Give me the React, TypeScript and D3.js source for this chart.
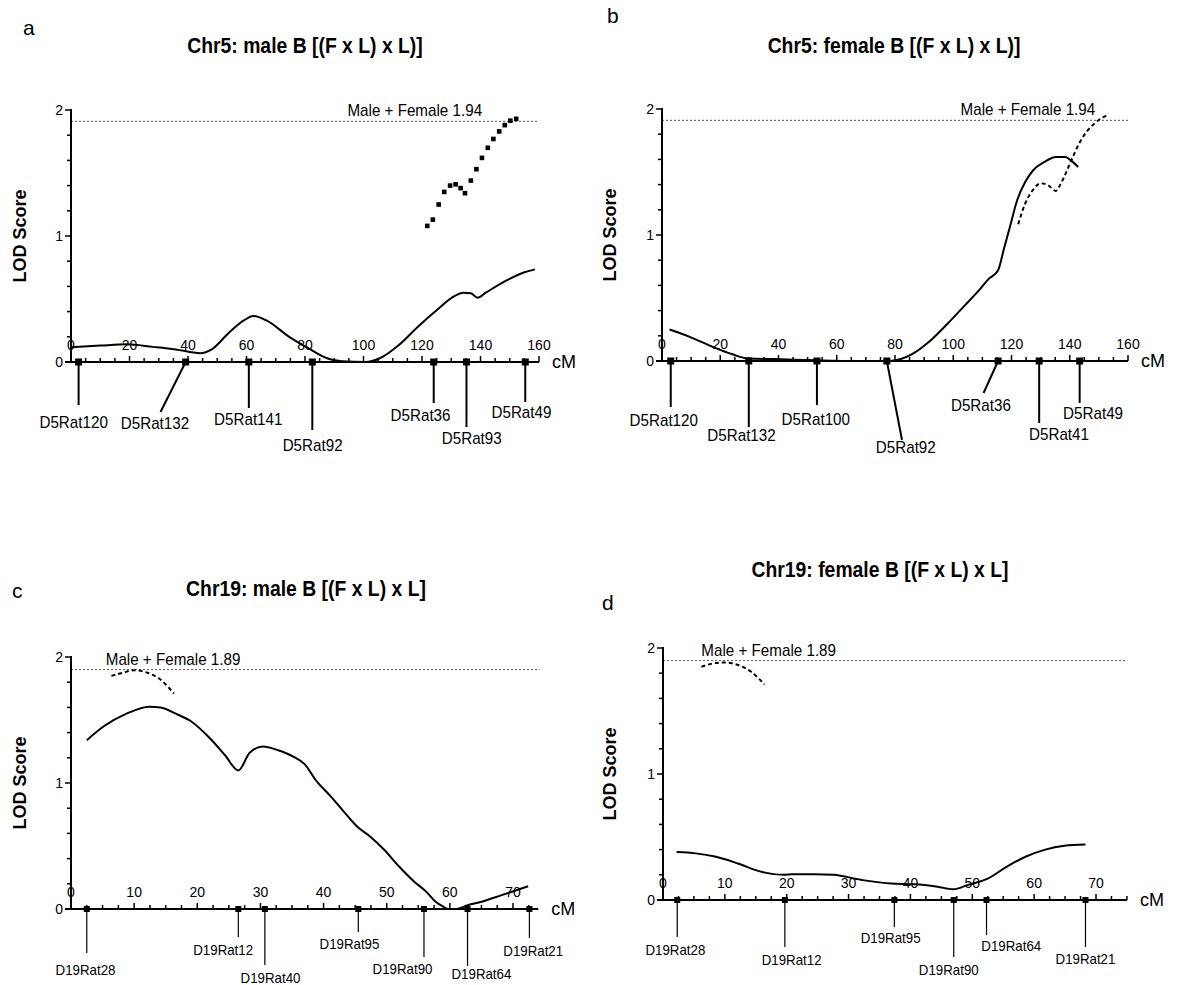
import React from "react";
import * as d3 from "d3";

const FONT = "'Liberation Sans', Arial, Helvetica, sans-serif";

// ---------------- data ----------------
// Panel a: Chr5 male
const A_CM = [0, 10, 19, 28, 35.8, 44.2, 48.1, 53.9, 59.1, 62.3, 66.8, 74.6, 81.1, 87.5, 92.7, 100.5, 105.6, 112.1, 118.6, 125, 130.9, 134.1, 136.7, 139, 141.8, 148.3, 154.8, 158.6];
const A_LOD = [0.117, 0.13, 0.14, 0.12, 0.1, 0.07, 0.1, 0.23, 0.33, 0.365, 0.33, 0.2, 0.11, 0.03, 0.005, 0, 0.03, 0.135, 0.28, 0.41, 0.52, 0.55, 0.545, 0.51, 0.55, 0.64, 0.71, 0.735];
const A_DOT_CM = [121.8, 123.7, 125.7, 127.6, 129.6, 131.5, 133.2, 134.7, 136.7, 138.6, 140.5, 142.5, 144.4, 146.4, 148.3, 150.2, 152.2];
const A_DOT_LOD = [1.08, 1.13, 1.25, 1.35, 1.4, 1.41, 1.38, 1.34, 1.44, 1.53, 1.62, 1.7, 1.77, 1.83, 1.88, 1.915, 1.93];
const A_MARKERS = ["D5Rat120", "D5Rat132", "D5Rat141", "D5Rat92", "D5Rat36", "D5Rat93", "D5Rat49"];
const A_MARKER_CM = [2.6, 39.2, 60.8, 82.5, 124, 135.2, 155.3];

// Panel b: Chr5 female
const B_CM = [2.6, 9.7, 17.6, 24.2, 29.5, 38.7, 52.9, 64, 77, 81, 86.3, 91.6, 98.2, 103.5, 108.8, 112.1, 115.4, 117.4, 119.4, 122, 124.7, 127.3, 131.3, 135.2, 138.5, 140.5, 142.9];
const B_LOD = [0.25, 0.19, 0.11, 0.053, 0.02, 0.015, 0.005, 0, 0, 0.01, 0.06, 0.15, 0.3, 0.43, 0.56, 0.65, 0.72, 0.89, 1.06, 1.28, 1.42, 1.51, 1.58, 1.62, 1.62, 1.59, 1.54];
const B_DASH_CM = [122.3, 124.7, 127.3, 130, 132.6, 135.2, 137.2, 140.5, 143.2, 145.8, 148.5, 151.1, 153.1];
const B_DASH_LOD = [1.085, 1.25, 1.355, 1.41, 1.395, 1.35, 1.42, 1.59, 1.725, 1.82, 1.885, 1.93, 1.95];
const B_MARKERS = ["D5Rat120", "D5Rat132", "D5Rat100", "D5Rat92", "D5Rat36", "D5Rat41", "D5Rat49"];
const B_MARKER_CM = [3, 29.8, 53.2, 77.2, 115.4, 129.5, 143.4];

// Panel c: Chr19 male
const C_CM = [2.5, 5.2, 8.8, 12.4, 14.2, 16.6, 19, 22, 24.4, 26.5, 28.3, 30.4, 32.8, 35.2, 37, 38.8, 41.2, 43, 45.4, 47.5, 49.6, 52, 54.4, 56.2, 57.7, 58.9, 59.8, 61, 62.8, 65.2, 68.2, 72.4];
const C_LOD = [1.34, 1.45, 1.55, 1.605, 1.6, 1.55, 1.49, 1.355, 1.22, 1.1, 1.24, 1.29, 1.26, 1.21, 1.15, 1.02, 0.89, 0.785, 0.65, 0.57, 0.47, 0.335, 0.215, 0.14, 0.06, 0.02, 0, 0, 0.03, 0.06, 0.11, 0.18];
const C_DASH_CM = [6.4, 8.2, 10, 12.1, 14.2, 16.3];
const C_DASH_LOD = [1.85, 1.875, 1.895, 1.875, 1.82, 1.71];
const C_MARKERS = ["D19Rat28", "D19Rat12", "D19Rat40", "D19Rat95", "D19Rat90", "D19Rat64", "D19Rat21"];
const C_MARKER_CM = [2.5, 26.5, 30.7, 45.5, 55.9, 62.8, 72.6];

// Panel d: Chr19 female
const D_CM = [2.2, 5.3, 8.4, 12.1, 15.8, 19.6, 20.8, 24.5, 27.6, 32, 36.9, 40.7, 44.4, 46.9, 49.3, 52.5, 55.6, 58.7, 61.8, 64.9, 68.3];
const D_LOD = [0.38, 0.37, 0.345, 0.29, 0.225, 0.2, 0.205, 0.205, 0.2, 0.16, 0.13, 0.125, 0.105, 0.085, 0.12, 0.17, 0.265, 0.345, 0.4, 0.43, 0.44];
const D_DASH_CM = [6.2, 8.4, 10.2, 12.1, 14.3, 16.4];
const D_DASH_LOD = [1.85, 1.88, 1.885, 1.865, 1.81, 1.71];
const D_MARKERS = ["D19Rat28", "D19Rat12", "D19Rat95", "D19Rat90", "D19Rat64", "D19Rat21"];
const D_MARKER_CM = [2.3, 19.7, 37.4, 47, 52.3, 68.3];

const Y_TICKS = [0, 1, 2];
const CHR5_X_TICKS = [0, 20, 40, 60, 80, 100, 120, 140, 160];
const CHR19_X_TICKS = [0, 10, 20, 30, 40, 50, 60, 70];
const CHR5_THRESHOLD = 1.91;
const CHR19_THRESHOLD = 1.9;
const CHR5_THRESHOLD_LABEL = "Male + Female 1.94";
const CHR19_THRESHOLD_LABEL = "Male + Female 1.89";

// ---------------- layout ----------------
// marker label layout: [labelCM, lineEndCM (null = vertical), lineDy, baselineDy]
type LabLay = [number, number | null, number, number];
const A_LAB: LabLay[] = [[0.9, null, 43, 66], [28.7, 30.6, 50, 67], [60.6, null, 46, 63], [82.6, null, 68, 89], [119.5, null, 41, 59], [137, null, 65, 82], [154, null, 40, 56]];
const B_LAB: LabLay[] = [[0.6, null, 46, 65], [27.3, null, 66, 80], [52.8, null, 44, 64], [83.7, 82.4, 79, 92], [109.5, 110.4, 32, 50], [136.3, null, 62, 79], [148, null, 42, 58]];
const C_LAB: LabLay[] = [[2.3, null, 44, 66], [24.1, null, 28, 46], [31.6, null, 56, 74], [44.1, null, 23, 40], [52.5, null, 48, 65], [65, null, 57, 70], [73.2, null, 29, 47]];
const D_LAB: LabLay[] = [[2.0, null, 37, 55], [20.8, null, 47, 65], [36.8, null, 27, 43], [46.2, null, 57, 75], [56.3, null, 35, 51], [68.3, null, 47, 64]];

interface PanelCfg {
  letter: string; letterX: number; letterY: number;
  title: string; titleX: number; titleY: number;
  ox: number; refCM: number; refPx: number; axisEnd: number;
  y0: number; y2: number;
  xTicks: number[]; minorStep: number;
  solidCM: number[]; solidLOD: number[];
  dotCM?: number[]; dotLOD?: number[];
  dashCM?: number[]; dashLOD?: number[];
  markers: string[]; markerCM: number[]; lab: LabLay[];
  labFont: number; markerSize: number; markerStroke: number;
  thr: number; thrLabel: string; thrEnd: number; thrLabelCM: number;
  lodX: number;
}

const PANELS: PanelCfg[] = [
  {
    letter: "a", letterX: 23, letterY: 35, title: "Chr5: male B [(F x L) x L)]", titleX: 305, titleY: 53,
    ox: 71, refCM: 160, refPx: 539, axisEnd: 160, y0: 362, y2: 110, xTicks: CHR5_X_TICKS, minorStep: 5,
    solidCM: A_CM, solidLOD: A_LOD, dotCM: A_DOT_CM, dotLOD: A_DOT_LOD,
    markers: A_MARKERS, markerCM: A_MARKER_CM, lab: A_LAB, labFont: 16, markerSize: 7, markerStroke: 2,
    thr: CHR5_THRESHOLD, thrLabel: CHR5_THRESHOLD_LABEL, thrEnd: 160, thrLabelCM: 94.5, lodX: 20,
  },
  {
    letter: "b", letterX: 607, letterY: 23, title: "Chr5: female B [(F x L) x L)]", titleX: 894, titleY: 53,
    ox: 662, refCM: 160, refPx: 1128, axisEnd: 160, y0: 361, y2: 109, xTicks: CHR5_X_TICKS, minorStep: 5,
    solidCM: B_CM, solidLOD: B_LOD, dashCM: B_DASH_CM, dashLOD: B_DASH_LOD,
    markers: B_MARKERS, markerCM: B_MARKER_CM, lab: B_LAB, labFont: 16, markerSize: 7, markerStroke: 2,
    thr: CHR5_THRESHOLD, thrLabel: CHR5_THRESHOLD_LABEL, thrEnd: 160, thrLabelCM: 102.5, lodX: 610,
  },
  {
    letter: "c", letterX: 12, letterY: 598, title: "Chr19:  male B [(F x L) x L]", titleX: 306, titleY: 596,
    ox: 71, refCM: 70, refPx: 513, axisEnd: 74, y0: 909, y2: 657, xTicks: CHR19_X_TICKS, minorStep: 2.5,
    solidCM: C_CM, solidLOD: C_LOD, dashCM: C_DASH_CM, dashLOD: C_DASH_LOD,
    markers: C_MARKERS, markerCM: C_MARKER_CM, lab: C_LAB, labFont: 14, markerSize: 6, markerStroke: 1.2,
    thr: CHR19_THRESHOLD, thrLabel: CHR19_THRESHOLD_LABEL, thrEnd: 74.2, thrLabelCM: 5.5, lodX: 20,
  },
  {
    letter: "d", letterX: 602, letterY: 610, title: "Chr19:  female B [(F x L) x L]", titleX: 880, titleY: 577,
    ox: 663, refCM: 70, refPx: 1096, axisEnd: 75, y0: 900, y2: 648, xTicks: CHR19_X_TICKS, minorStep: 2.5,
    solidCM: D_CM, solidLOD: D_LOD, dashCM: D_DASH_CM, dashLOD: D_DASH_LOD,
    markers: D_MARKERS, markerCM: D_MARKER_CM, lab: D_LAB, labFont: 14, markerSize: 6, markerStroke: 1.2,
    thr: CHR19_THRESHOLD, thrLabel: CHR19_THRESHOLD_LABEL, thrEnd: 75, thrLabelCM: 6.2, lodX: 610,
  },
];

function Panel({ p }: { p: PanelCfg }) {
  const x = d3.scaleLinear().domain([0, p.refCM]).range([p.ox, p.refPx]);
  const y = d3.scaleLinear().domain([0, 2]).range([p.y0, p.y2]);
  const line = d3.line<[number, number]>().x((d) => x(d[0])).y((d) => y(d[1])).curve(d3.curveMonotoneX);
  const solid = line(p.solidCM.map((c, i) => [c, p.solidLOD[i]] as [number, number])) || "";
  const dash = p.dashCM ? line(p.dashCM.map((c, i) => [c, p.dashLOD![i]] as [number, number])) || "" : "";
  const minors = d3.range(0, p.axisEnd + 0.001, p.minorStep);
  const yMinors = d3.range(0, 2.001, 0.2);
  const axisEndPx = x(p.axisEnd);
  const midY = (y(0) + y(2)) / 2;
  return (
    <g fontFamily={FONT} fill="#000">
      <text x={p.letterX} y={p.letterY} fontSize={21}>{p.letter}</text>
      <text transform={`translate(${p.titleX},${p.titleY}) scale(0.88,1)`} textAnchor="middle" fontSize={22} fontWeight="bold">{p.title}</text>
      <text transform={`translate(${p.lodX + 6},${midY}) rotate(-90)`} textAnchor="middle" fontSize={18} fontWeight="bold">LOD Score</text>

      {/* threshold */}
      <line x1={x(0)} x2={x(p.thrEnd)} y1={y(p.thr)} y2={y(p.thr)} stroke="#555" strokeWidth={1} strokeDasharray="2,2" />
      <text transform={`translate(${x(p.thrLabelCM)},${y(p.thr) - 5}) scale(0.95,1)`} fontSize={16}>{p.thrLabel}</text>

      {/* y axis */}
      <line x1={p.ox} x2={p.ox} y1={y(2) - 1} y2={y(0)} stroke="#000" strokeWidth={2} />
      {yMinors.map((v, i) => (
        <line key={"ym" + i} x1={p.ox - (Math.abs(v - Math.round(v)) < 1e-6 ? 6 : 4)} x2={p.ox} y1={y(v)} y2={y(v)} stroke="#000" strokeWidth={1.5} />
      ))}
      {Y_TICKS.map((v) => (
        <text key={"yt" + v} x={p.ox - 8} y={y(v) + 5} textAnchor="end" fontSize={14}>{v}</text>
      ))}

      {/* x axis */}
      <line x1={p.ox - 6} x2={axisEndPx} y1={p.y0} y2={p.y0} stroke="#000" strokeWidth={2} />
      {minors.map((v, i) => {
        const major = p.xTicks.includes(v);
        return <line key={"xm" + i} x1={x(v)} x2={x(v)} y1={p.y0} y2={p.y0 - (major ? 6 : 4)} stroke="#000" strokeWidth={1.5} />;
      })}
      {p.xTicks.map((v) => (
        <text key={"xt" + v} x={x(v)} y={p.y0 - 12} textAnchor="middle" fontSize={14}>{v}</text>
      ))}
      <text x={axisEndPx + 13} y={p.y0 + 6} fontSize={18}>cM</text>

      {/* curves */}
      <path d={solid} fill="none" stroke="#000" strokeWidth={2} />
      {dash && <path d={dash} fill="none" stroke="#000" strokeWidth={2} strokeDasharray="4,3" />}
      {p.dotCM && p.dotCM.map((c, i) => (
        <rect key={"dot" + i} x={x(c) - 2.3} y={y(p.dotLOD![i]) - 2.3} width={4.6} height={4.6} fill="#000" />
      ))}

      {/* markers */}
      {p.markers.map((m, i) => {
        const [labCM, endCM, lineDy, baseDy] = p.lab[i];
        const mx = x(p.markerCM[i]);
        const ex = endCM === null ? mx : x(endCM);
        return (
          <g key={m + i}>
            <line x1={mx} x2={ex} y1={p.y0} y2={p.y0 + lineDy} stroke="#000" strokeWidth={p.markerStroke} />
            <rect x={mx - p.markerSize / 2} y={p.y0 - p.markerSize / 2} width={p.markerSize} height={p.markerSize} fill="#000" />
            <text transform={`translate(${x(labCM)},${p.y0 + baseDy}) scale(0.95,1)`} textAnchor="middle" fontSize={p.labFont}>{m}</text>
          </g>
        );
      })}
    </g>
  );
}

export default function App() {
  return (
    <svg width={1200} height={985} style={{ position: "absolute", left: 0, top: 0, background: "#fff" }}>
      <rect x={0} y={0} width={1200} height={985} fill="#fff" />
      {PANELS.map((p) => <Panel key={p.letter} p={p} />)}
    </svg>
  );
}
